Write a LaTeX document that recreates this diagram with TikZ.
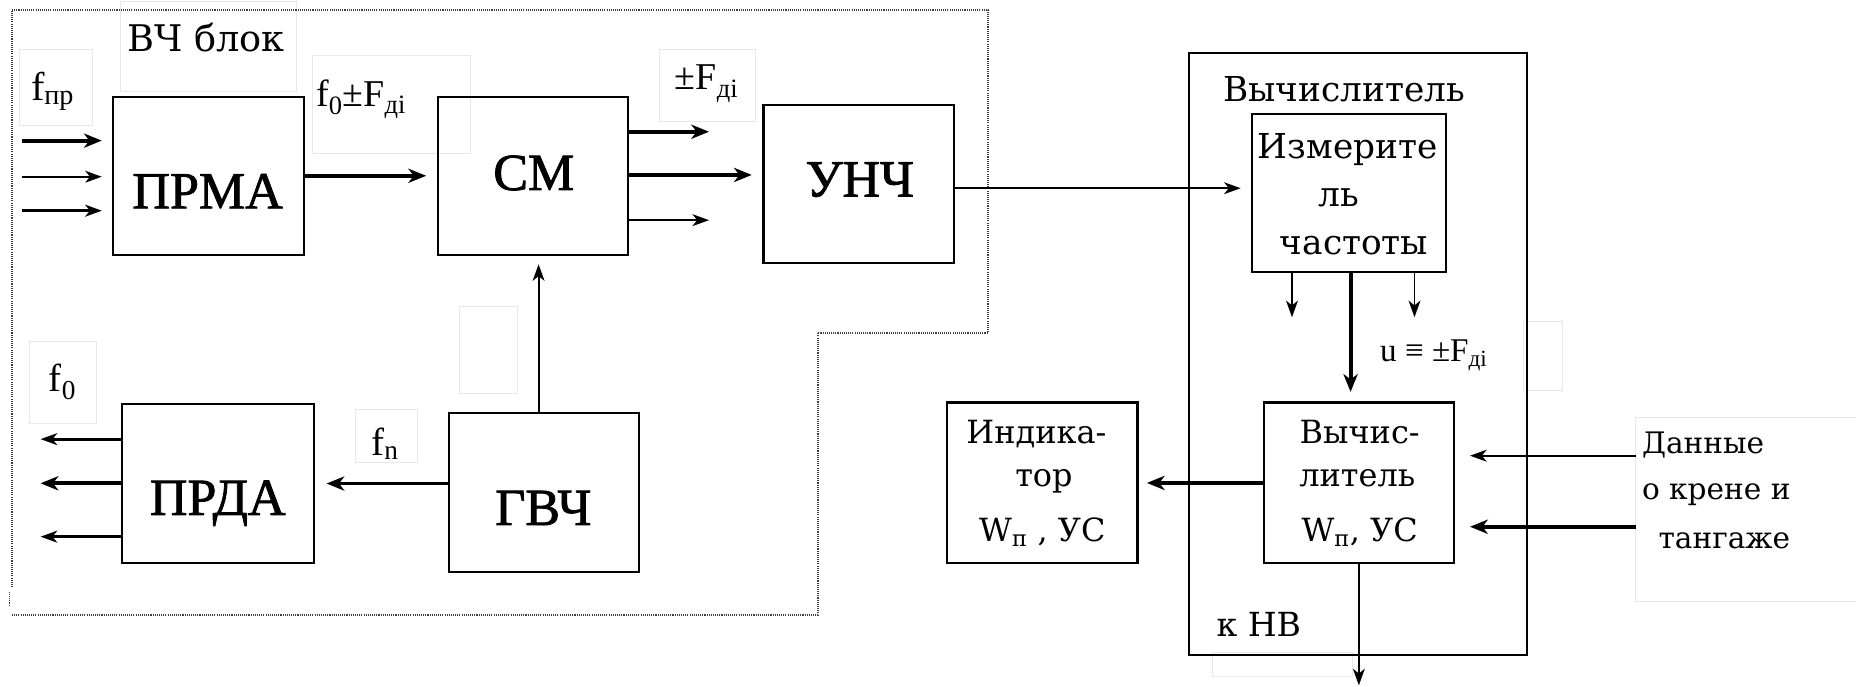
\documentclass[tikz,border=0pt]{standalone}
\usepackage{fontspec}
\setmainfont{Liberation Serif}
\newfontfamily\slabfont{DejaVu Serif}
\newfontfamily\heavyserif[FakeBold=1.5]{Liberation Serif}
\usetikzlibrary{arrows.meta}
\tikzset{
  boxst/.style={draw, line width=1.8pt, inner sep=0pt},
  bigtxt/.style={font=\heavyserif\fontsize{44}{50}\selectfont, inner sep=0pt, anchor=base},
  slabtxt/.style={font=\slabfont\fontsize{#1}{#1}\selectfont, inner sep=0pt, anchor=base},
  mathtxt/.style={font=\fontsize{#1}{#1}\selectfont, inner sep=0pt, anchor=base west},
  arr/.style={-{Stealth[length=14pt,width=10pt,inset=4pt]}},
  arrbig/.style={-{Stealth[length=15pt,width=12pt,inset=4.5pt]}},
  wthin/.style={line width=1.6pt},
  wmed/.style={line width=2.3pt},
  wthick/.style={line width=3.3pt},
  faint/.style={draw=gray!18, line width=0.8pt},
  dotline/.style={draw=black!75, line width=1.6pt, dash pattern=on 0.9pt off 0.9pt}
}
\begin{document}
\begin{tikzpicture}[x=1pt,y=-1pt]
\useasboundingbox (0,0) rectangle (1568,580);
% faint label frames
\draw[faint] (102,1.4) rectangle (250.6,77.5);
\draw[faint] (16.7,42) rectangle (78.5,105.6);
\draw[faint] (264,46.5) rectangle (397.6,130);
\draw[faint] (557,42) rectangle (638,102.8);
\draw[faint] (1287,271.8) rectangle (1320,329.5);
\draw[faint] (1382,353) rectangle (1568,508);
\draw[faint] (1024,551) rectangle (1143,571.7);
\draw[faint] (25,288.6) rectangle (81.5,358);
\draw[faint] (300,345.6) rectangle (352.5,391);
\draw[faint] (388,258.5) rectangle (437,332);
% dotted HF block outline
\draw[dotline] (10,496) -- (10,8.4) -- (835,8.4) -- (835,281) -- (691,281) -- (691,519.6) -- (10,519.6);
\draw[dotline] (8,500) -- (8,512);
% boxes
\node[boxst, minimum width=161.4pt, minimum height=133.7pt] (prma) at (175.9,148.5) {};
\node[boxst, minimum width=160.6pt, minimum height=133.7pt] (cm) at (450.2,148.5) {};
\node[boxst, minimum width=161pt, minimum height=133.8pt] (unch) at (725.5,155.6) {};
\node[boxst, minimum width=285.5pt, minimum height=508.5pt] (vychout) at (1147.3,298.8) {};
\node[boxst, minimum width=163.5pt, minimum height=133.5pt] (izm) at (1139.8,163) {};
\node[boxst, minimum width=160pt, minimum height=136pt] (vych) at (1148,408) {};
\node[boxst, minimum width=161pt, minimum height=136pt] (ind) at (880.5,408) {};
\node[boxst, minimum width=162pt, minimum height=135pt] (prda) at (184,408.5) {};
\node[boxst, minimum width=161pt, minimum height=134pt] (gvch) at (459.5,416) {};
% box texts
\node[bigtxt] (tprma) at (175.4,176) {ПРМА};
\node[bigtxt] (tcm) at (451,160.5) {СМ};
\node[bigtxt] (tunch) at (726.3,166) {УНЧ};
\node[bigtxt] (tprda) at (184,435) {ПРДА};
\node[bigtxt] (tgvch) at (459,443.5) {ГВЧ};
\node[slabtxt=31] (tvchb) at (174.2,43.7) {ВЧ блок};
\node[slabtxt=29] (tvychout) at (1135.5,85.9) {Вычислитель};
\node[slabtxt=29] (tizm1) at (1138.7,133.8) {Измерите};
\node[slabtxt=29] (tizm2) at (1131,174.6) {ль};
\node[slabtxt=29] (tizm3) at (1144,215.4) {частоты};
\node[slabtxt=27] (tind1) at (875.6,374.5) {Индика-};
\node[slabtxt=27] (tind2) at (882,411) {тор};
\node[slabtxt=27] (tind3) at (880.6,457.6) {W\textsubscript{п} , УС};
\node[slabtxt=27] (tvy1) at (1148.7,374.5) {Вычис-};
\node[slabtxt=27] (tvy2) at (1146.7,411) {литель};
\node[slabtxt=27] (tvy3) at (1148.7,457.6) {W\textsubscript{п}, УС};
\node[slabtxt=25, anchor=base west] (td1) at (1387,383) {Данные};
\node[slabtxt=25, anchor=base west] (td2) at (1387,422.4) {о крене и};
\node[slabtxt=25, anchor=base west] (td3) at (1401,463) {тангаже};
\node[slabtxt=28] (tknv) at (1063.5,537.9) {к НВ};
% signal labels
\node[mathtxt=34] (lfpr) at (26,84.5) {f\textsubscript{пр}};
\node[mathtxt=32] (lf0f) at (267,90) {f\textsubscript{0}±F\textsubscript{дi}};
\node[mathtxt=32] (lfd) at (570,76) {±F\textsubscript{дi}};
\node[mathtxt=28] (lu) at (1165.8,305.5) {u ≡ ±F\textsubscript{дi}};
\node[mathtxt=33] (lf0) at (41,331) {f\textsubscript{0}};
\node[mathtxt=33] (lfn) at (313.6,384.4) {f\textsubscript{n}};
% free ends
\coordinate (in1) at (18.4,118.8);
\coordinate (in2) at (18.4,149.3);
\coordinate (in3) at (18.4,178);
\coordinate (co1) at (599,111.3);
\coordinate (co3) at (599,186);
\coordinate (po1) at (34.3,371);
\coordinate (po2) at (34.3,408.3);
\coordinate (po3) at (34.3,453.4);
\coordinate (io1) at (1091.5,268);
\coordinate (io3) at (1195,268);
\coordinate (d1) at (1382,385);
\coordinate (d2) at (1382,445);
\coordinate (knv) at (1148,579);
% connectors
\draw[wthick,arrbig,shorten >=8.3pt] (in1) -- (in1 -| prma.west);
\draw[wthin,arr,shorten >=8.3pt] (in2) -- (in2 -| prma.west);
\draw[wmed,arr,shorten >=8.3pt] (in3) -- (in3 -| prma.west);
\draw[wthick,arrbig,shorten >=9pt] (prma.east) -- (cm.west);
\draw[wthick,arrbig] (co1 -| cm.east) -- (co1);
\draw[wthick,arrbig,shorten >=9pt] ([yshift=0.7pt]cm.east) -- ([yshift=0.7pt]cm.east -| unch.west);
\draw[wthin,arr] (co3 -| cm.east) -- (co3);
\draw[wthin,arr,shorten >=9pt] ([yshift=-3.4pt]unch.east) -- ([yshift=-3.4pt]unch.east -| izm.west);
\draw[wthin,arr,shorten >=7pt] ([xshift=-4.5pt]gvch.north) -- ([xshift=-4.5pt]gvch.north |- cm.south);
\draw[wthick,arrbig,shorten >=10pt] (gvch.west |- prda.east) -- (prda.east);
\draw[wmed,arr] (po1 -| prda.west) -- (po1);
\draw[wthick,arrbig] (po2 -| prda.west) -- (po2);
\draw[wmed,arr] (po3 -| prda.west) -- (po3);
\draw[wthin,arr] (io1 |- izm.south) -- (io1);
\draw[wthick,arrbig,shorten >=8pt] ([xshift=1.2pt]izm.south) -- ([xshift=1.2pt]izm.south |- vych.north);
\draw[wthin,arr] (io3 |- izm.south) -- (io3);
\draw[wthick,arrbig,shorten >=7pt] (vych.west) -- (ind.east);
\draw[wthin,arr,shorten >=13pt] (d1) -- (d1 -| vych.east);
\draw[wthick,arrbig,shorten >=13pt] (d2) -- (d2 -| vych.east);
\draw[wthin,arr] (vych.south) -- (knv);
\end{tikzpicture}
\end{document}
